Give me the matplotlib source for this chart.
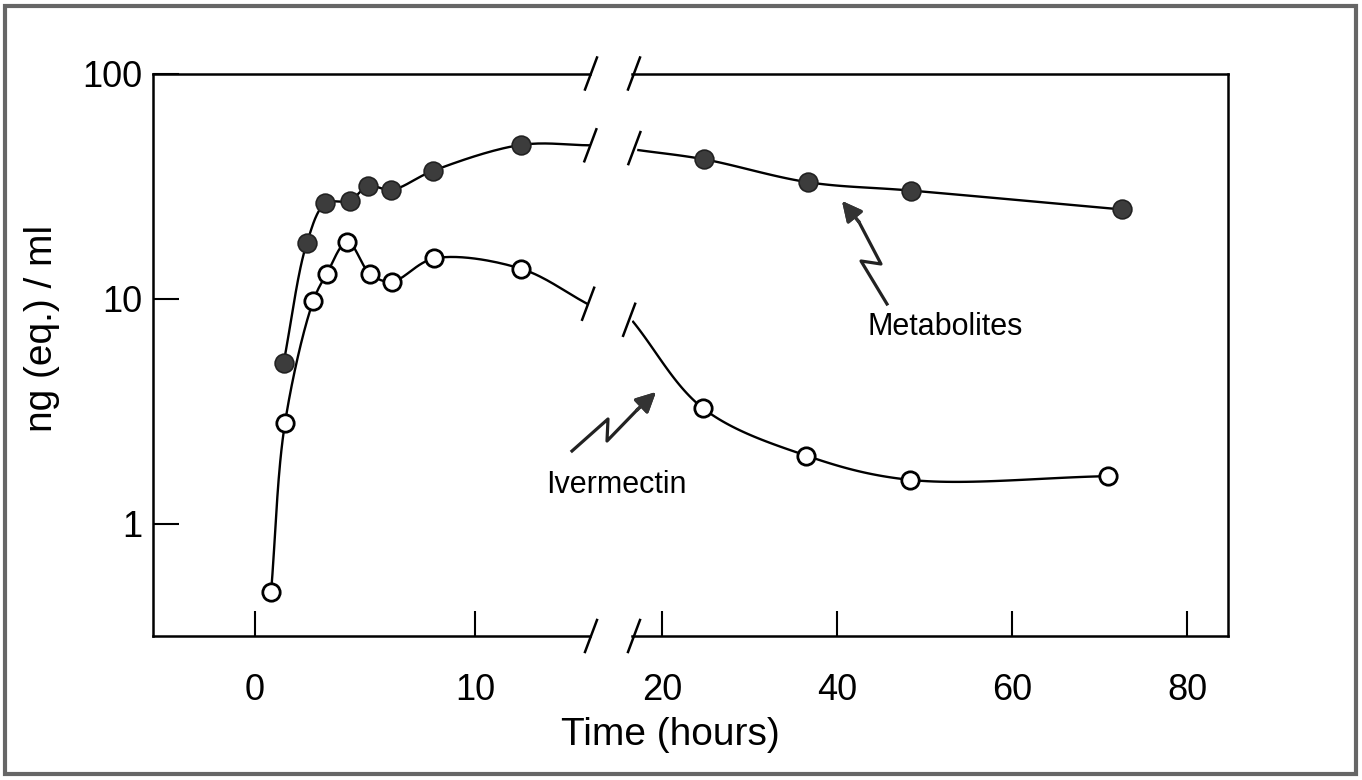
import numpy as np
import matplotlib
matplotlib.use("Agg")
import matplotlib.pyplot as plt
from matplotlib.lines import Line2D
from matplotlib.patches import Rectangle
from matplotlib.ticker import NullLocator
from matplotlib.transforms import IdentityTransform

plt.rcParams["font.family"] = ["Liberation Sans", "DejaVu Sans"]

# 数据：时间（小时）与浓度 ng(eq.)/ml，断轴左右两段
met_t_early = [1.3, 2.35, 3.2, 4.3, 5.15, 6.2, 8.1, 12.1]
met_early = [5.2, 17.6, 26.5, 27.2, 31.7, 30.4, 37.0, 48.2]
met_t_late = [24.8, 36.7, 48.5, 72.6]
met_late = [41.6, 32.9, 30.2, 24.9]

iver_t_early = [0.73, 1.36, 2.65, 3.26, 4.2, 5.23, 6.21, 8.15, 12.08]
iver_early = [0.50, 2.8, 9.8, 12.9, 17.9, 12.9, 11.9, 15.1, 13.6]
iver_t_late = [24.7, 36.5, 48.3, 71.0]
iver_late = [3.26, 2.01, 1.57, 1.63]

# 手绘曲线在断轴处的端点
met_break_t = [15.2, 17.3]
met_break = [48.0, 45.7]
iver_break_t = [15.1, 16.7]
iver_break = [9.5, 7.9]

W, H = 1362, 780


def smooth(x, y, pxh, n=30):
    # centripetal Catmull-Rom, 在 (x, log y) 像素尺度上画平滑曲线
    P = np.column_stack([np.asarray(x) * pxh, np.log10(y) * 225.0])
    P = np.vstack([2 * P[0] - P[1], P, 2 * P[-1] - P[-2]])
    out = []
    for i in range(1, len(P) - 2):
        p0, p1, p2, p3 = P[i - 1:i + 3]
        t0 = 0.0
        t1 = t0 + np.linalg.norm(p1 - p0) ** 0.5
        t2 = t1 + np.linalg.norm(p2 - p1) ** 0.5
        t3 = t2 + np.linalg.norm(p3 - p2) ** 0.5
        t = np.linspace(t1, t2, n)[:, None]
        a1 = (t1 - t) / (t1 - t0) * p0 + (t - t0) / (t1 - t0) * p1
        a2 = (t2 - t) / (t2 - t1) * p1 + (t - t1) / (t2 - t1) * p2
        a3 = (t3 - t) / (t3 - t2) * p2 + (t - t2) / (t3 - t2) * p3
        b1 = (t2 - t) / (t2 - t0) * a1 + (t - t0) / (t2 - t0) * a2
        b2 = (t3 - t) / (t3 - t1) * a2 + (t - t1) / (t3 - t1) * a3
        out.append((t2 - t) / (t2 - t1) * b1 + (t - t1) / (t2 - t1) * b2)
    C = np.vstack(out)
    return C[:, 0] / pxh, 10 ** (C[:, 1] / 225.0)


def box(x0, x1, y0=73.5, y1=636):
    return [x0 / W, 1 - y1 / H, (x1 - x0) / W, (y1 - y0) / H]


def slash(px, py):
    # 断轴斜杠，像素坐标（左下为原点）
    fig.add_artist(Line2D([px - 6, px + 6], [py - 16, py + 16], color="black",
                          lw=1.8, transform=IdentityTransform(), zorder=10))


def squiggle(pts, tip):
    # 闪电形箭头，pts 为图像像素坐标（左上为原点）
    xs = [p[0] / W for p in pts]
    ys = [1 - p[1] / H for p in pts]
    fig.add_artist(Line2D(xs, ys, color="#222222", lw=2.3,
                          transform=fig.transFigure, solid_joinstyle="round"))
    fig.add_artist(plt.annotate(
        "", xy=(tip[0] / W, 1 - tip[1] / H), xytext=(xs[-1], ys[-1]),
        xycoords="figure fraction", textcoords="figure fraction",
        arrowprops=dict(arrowstyle="-|>,head_length=1.2,head_width=0.6",
                        color="#333333", lw=2.3, shrinkA=0, shrinkB=0)))


fig = plt.figure(figsize=(W / 100, H / 100), dpi=100)
ax1 = fig.add_axes(box(153, 590))
ax2 = fig.add_axes(box(632, 1228))

for ax in (ax1, ax2):
    ax.set_yscale("log")
    ax.set_ylim(0.318, 100)
    ax.yaxis.set_minor_locator(NullLocator())
    for s in ax.spines.values():
        s.set_linewidth(1.8)
    ax.tick_params(axis="x", direction="in", length=18, width=1.5,
                   labelsize=26, pad=27)

ax1.set_xlim(-4.64, 15.23)
ax2.set_xlim(16.57, 84.69)
ax1.spines["right"].set_visible(False)
ax2.spines["left"].set_visible(False)
ax1.set_xticks([0, 10])
ax2.set_xticks([20, 40, 60, 80])
ax1.set_yticks([1, 10, 100])
ax1.set_yticklabels(["1", "10", "100"])
ax1.tick_params(axis="y", direction="in", length=19, width=1.5,
                labelsize=26, pad=8)
ax2.set_yticks([])
ax2.tick_params(axis="y", which="both", left=False, right=False)

# 左段曲线
x, y = smooth(met_t_early + met_break_t[:1], met_early + met_break[:1], 22)
ax1.plot(x, y, color="black", lw=1.7, zorder=2)
x, y = smooth(iver_t_early + iver_break_t[:1], iver_early + iver_break[:1], 22)
ax1.plot(x, y, color="black", lw=1.7, zorder=2)
# 右段曲线
x, y = smooth(met_break_t[1:] + met_t_late, met_break[1:] + met_late, 8.75)
ax2.plot(x, y, color="black", lw=1.7, zorder=2)
x, y = smooth(iver_break_t[1:] + iver_t_late, iver_break[1:] + iver_late, 8.75)
ax2.plot(x, y, color="black", lw=1.7, zorder=2)

filled = dict(ls="none", marker="o", ms=13.5, mfc="#3c3c3c", mec="#222222",
              mew=1.2, zorder=3, clip_on=False)
hollow = dict(ls="none", marker="o", ms=12.5, mfc="white", mec="black",
              mew=2.0, zorder=3, clip_on=False)
ax1.plot(met_t_early, met_early, **filled)
ax2.plot(met_t_late, met_late, **filled)
ax1.plot(iver_t_early, iver_early, **hollow)
ax2.plot(iver_t_late, iver_late, **hollow)

fig.canvas.draw()

# 断轴标记
for ax, side in ((ax1, 1), (ax2, 0)):
    for yy in (0, 1):
        px, py = ax.transAxes.transform((side, yy))
        slash(px + (1 if side else 2), py)
for t, v in ((met_break_t[0], met_break[0]), (iver_break_t[0], iver_break[0])):
    px, py = ax1.transData.transform((t, v))
    slash(px + 1, py)
for t, v in ((met_break_t[1], met_break[1]), (iver_break_t[1], iver_break[1])):
    px, py = ax2.transData.transform((t, v))
    slash(px - 4, py + 2)

fig.text(42 / W, 1 - 328 / H, "ng (eq.) / ml", rotation=90, fontsize=28,
         ha="center", va="center")
fig.text(670 / W, 1 - 735 / H, "Time (hours)", fontsize=28,
         ha="center", va="center")

fig.text(945 / W, 1 - 327 / H, "Metabolites", fontsize=22,
         ha="center", va="center")
fig.text(616 / W, 1 - 485 / H, "Ivermectin", fontsize=22,
         ha="center", va="center")
squiggle([(887, 304), (861, 261), (881, 264), (859, 222)], (842, 201))
squiggle([(572, 451), (608, 419), (607, 441), (637, 410)], (656, 392))

# 外框
fig.add_artist(Rectangle((5 / W, 6 / H), 1351 / W, 768 / H, fill=False,
                         ec="#666666", lw=3, transform=fig.transFigure))

fig.savefig("out.png", dpi=100)
